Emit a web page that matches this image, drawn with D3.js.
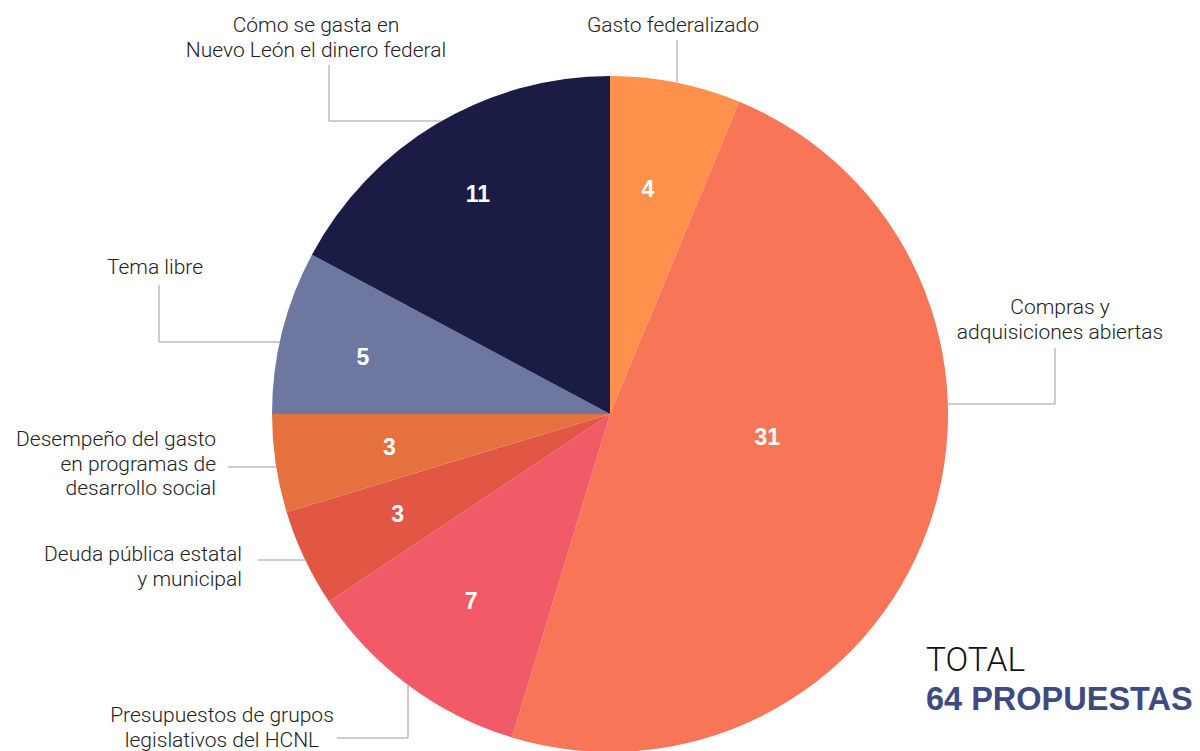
<!DOCTYPE html>
<html><head><meta charset="utf-8">
<script src="https://cdn.jsdelivr.net/npm/d3@7"></script>
<style>
html,body{margin:0;padding:0;background:#fff;}
svg{display:block;}
.lbl{font-family:"Roboto","Liberation Sans",sans-serif;font-weight:300;font-size:21px;fill:#222;}
.num{font-family:"Liberation Sans",Arial,sans-serif;font-weight:bold;font-size:23px;fill:#fff;}
</style></head>
<body>
<svg id="c" width="1200" height="751"></svg>
<script>
// DATA
const categories = [
  "Gasto federalizado",
  "Compras y adquisiciones abiertas",
  "Presupuestos de grupos legislativos del HCNL",
  "Deuda pública estatal y municipal",
  "Desempeño del gasto en programas de desarrollo social",
  "Tema libre",
  "Cómo se gasta en Nuevo León el dinero federal"
];
const values = [4, 31, 7, 3, 3, 5, 11];
const labelLines = [
  ["Gasto federalizado"],
  ["Compras y", "adquisiciones abiertas"],
  ["Presupuestos de grupos", "legislativos del HCNL"],
  ["Deuda pública estatal", "y municipal"],
  ["Desempeño del gasto", "en programas de", "desarrollo social"],
  ["Tema libre"],
  ["Cómo se gasta en", "Nuevo León el dinero federal"]
];
const totalLabel = "TOTAL";
const totalValue = "64 PROPUESTAS";

// STYLE / LAYOUT
const colors = ["#FF914D", "#F97557", "#F25A68", "#E25744", "#E4713E", "#6E77A0", "#1B1C46"];
const cx = 610, cy = 414, R = 338;

const svg = d3.select("#c");
const g = svg.append("g").attr("transform", `translate(${cx},${cy})`);

const pie = d3.pie().sort(null).value(d => d)(values);
const arc = d3.arc().innerRadius(0).outerRadius(R);

g.selectAll("path.slice").data(pie).join("path")
  .attr("class", "slice")
  .attr("d", arc)
  .attr("fill", (d, i) => colors[i]);

// number labels: placed at a fraction of the radius
const labelRadius = [0.675, 0.47, 0.69, 0.695, 0.66, 0.75, 0.76];
const angleShift = [-0.03, -0.2, 0, 0, 0, -0.02, 0];
g.selectAll("text.num").data(pie).join("text")
  .attr("class", "num")
  .attr("text-anchor", "middle")
  .attr("dominant-baseline", "central")
  .attr("x", (d, i) => { const a = (d.startAngle + d.endAngle) / 2 + angleShift[i]; return Math.sin(a) * R * labelRadius[i]; })
  .attr("y", (d, i) => { const a = (d.startAngle + d.endAngle) / 2 + angleShift[i]; return -Math.cos(a) * R * labelRadius[i]; })
  .text(d => d.data);

// leader lines + category labels
const lines = svg.append("g").attr("fill", "none").attr("stroke", "#9a9a9a").attr("stroke-width", 1);
const lh = 24.5;
function label(lines_, x, y, anchor) {
  const t = svg.append("text").attr("class", "lbl").attr("text-anchor", anchor);
  lines_.forEach((s, k) => t.append("tspan").attr("x", x).attr("y", y + k * lh).text(s));
}
// 0 Gasto federalizado
{ const x = 677; const yEdge = cy - Math.sqrt(R*R - (x-cx)*(x-cx));
  lines.append("path").attr("d", `M${x},40V${yEdge}`);
  label(labelLines[0], 673, 32, "middle"); }
// 1 Compras
{ const y = 404; const xEdge = cx + Math.sqrt(R*R - (y-cy)*(y-cy));
  lines.append("path").attr("d", `M1055,348V${y}H${xEdge}`);
  label(labelLines[1], 1060, 314, "middle"); }
// 2 Presupuestos
{ const x = 408; const yEdge = cy + Math.sqrt(R*R - (x-cx)*(x-cx));
  lines.append("path").attr("d", `M337,738H${x}V${yEdge}`);
  label(labelLines[2], 222, 722, "middle"); }
// 3 Deuda
{ const y = 560; const xEdge = cx - Math.sqrt(R*R - (y-cy)*(y-cy));
  lines.append("path").attr("d", `M258,${y}H${xEdge}`);
  label(labelLines[3], 242, 561, "end"); }
// 4 Desempeño
{ const y = 467; const xEdge = cx - Math.sqrt(R*R - (y-cy)*(y-cy));
  lines.append("path").attr("d", `M228,${y}H${xEdge}`);
  label(labelLines[4], 216, 446, "end"); }
// 5 Tema libre
{ const y = 342; const xEdge = cx - Math.sqrt(R*R - (y-cy)*(y-cy));
  lines.append("path").attr("d", `M159,285V${y}H${xEdge}`);
  label(labelLines[5], 155, 274, "middle"); }
// 6 Cómo se gasta
{ const y = 121; const xEdge = cx - Math.sqrt(R*R - (y-cy)*(y-cy));
  lines.append("path").attr("d", `M329,65V${y}H${xEdge}`);
  label(labelLines[6], 316, 32, "middle"); }

// total
svg.append("text").attr("x", 926).attr("y", 671)
  .style("font-family", "Roboto, 'Liberation Sans', sans-serif").style("font-weight", 300)
  .style("font-size", "33.5px").attr("fill", "#111").text(totalLabel);
svg.append("text").attr("x", 926).attr("y", 710)
  .style("font-family", "'Liberation Sans', Arial, sans-serif").style("font-weight", "bold")
  .style("font-size", "32.5px").attr("fill", "#3F4A80").text(totalValue);
</script>
</body></html>
